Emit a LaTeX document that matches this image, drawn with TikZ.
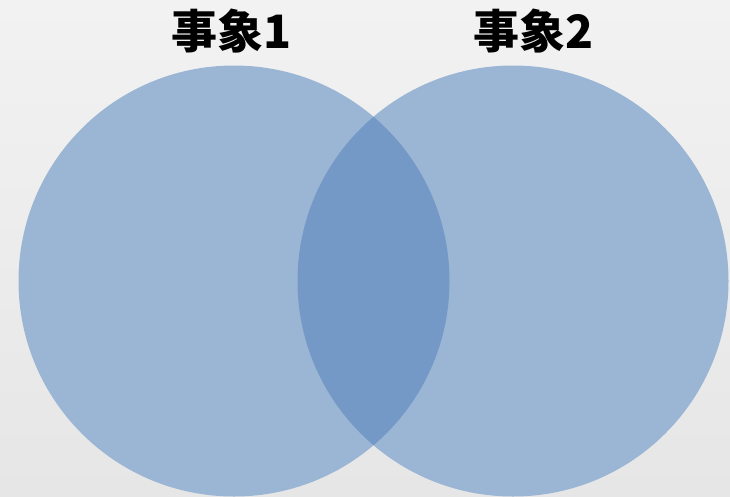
\documentclass[tikz,border=0pt]{standalone}
\usepackage{fontspec}
\newfontfamily\cjk{Noto Sans CJK JP}
\begin{document}
\begin{tikzpicture}[x=1pt,y=-1pt,
  setfill/.style={fill=setblue},
  title/.style={font=\cjk\bfseries\fontsize{46}{46}\selectfont, text=black, inner sep=0pt, anchor=center}]
\definecolor{setblue}{HTML}{9BB5D4}
\definecolor{overlap}{HTML}{7599C6}
\useasboundingbox (0,0) rectangle (730,496);
\shade[top color={rgb,255:red,242;green,242;blue,242}, bottom color={rgb,255:red,230;green,230;blue,230}] (0,0) rectangle (730,496);
\fill[setfill] (234,281) circle (215.5);
\fill[setfill] (513,281) circle (215.5);
\begin{scope}
  \clip (234,281) circle (215.5);
  \fill[overlap] (513,281) circle (215.5);
\end{scope}
\node[title] (e1) at (232,31) {事象1};
\node[title] (e2) at (533,31) {事象2};
\end{tikzpicture}
\end{document}
